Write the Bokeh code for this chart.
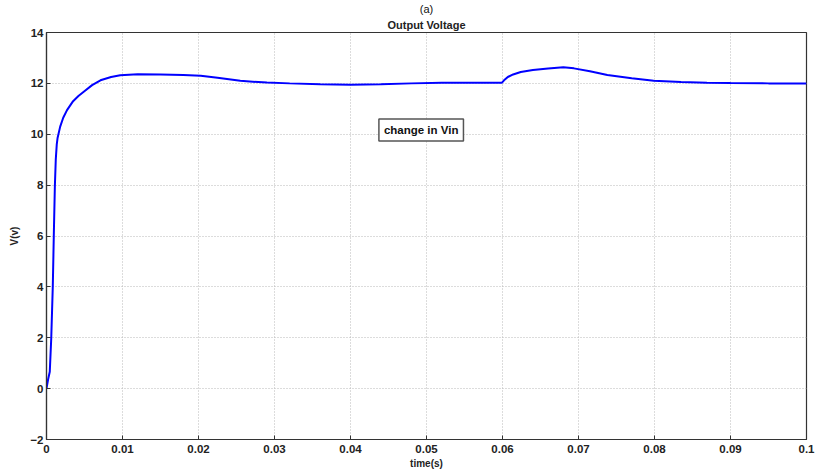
from bokeh.plotting import figure
from bokeh.models import Range1d, FixedTicker, NumeralTickFormatter, Label, Title
from bokeh.embed import file_html
from bokeh.resources import INLINE

# time (s) and output voltage (V)
t = [0, 0.0002, 0.00043, 0.00062, 0.00083, 0.00096, 0.0011, 0.00122, 0.00135, 0.00145,
     0.0018, 0.0022, 0.0027, 0.0035, 0.0042, 0.0049, 0.006, 0.0071, 0.0085, 0.0097,
     0.012, 0.015, 0.018, 0.0203, 0.0225, 0.0255, 0.029, 0.032, 0.036, 0.040,
     0.044, 0.048, 0.052, 0.056, 0.0599, 0.0602, 0.0607, 0.0614, 0.0624, 0.064,
     0.066, 0.068, 0.0694, 0.0715, 0.0738, 0.077, 0.0799, 0.0835, 0.0869, 0.09,
     0.095, 0.1]
v = [0, 0.35, 0.66, 1.95, 4.04, 6.0, 7.95, 9.0, 9.6, 9.84,
     10.3, 10.65, 10.95, 11.3, 11.5, 11.67, 11.93, 12.12, 12.25, 12.32,
     12.36, 12.35, 12.33, 12.3, 12.22, 12.1, 12.03, 12.0, 11.97, 11.95,
     11.97, 12.0, 12.02, 12.02, 12.02, 12.12, 12.25, 12.35, 12.45, 12.53,
     12.58, 12.63, 12.59, 12.48, 12.33, 12.2, 12.1, 12.05, 12.02, 12.01,
     12.0, 12.0]

x_ticks = [0, 0.01, 0.02, 0.03, 0.04, 0.05, 0.06, 0.07, 0.08, 0.09, 0.1]
y_ticks = [-2, 0, 2, 4, 6, 8, 10, 12, 14]

title_text = "Output Voltage"
x_label = "time(s)"
y_label = "V(v)"
annotation = "change in Vin"
panel_tag = "(a)"

FONT = "Liberation Sans"

p = figure(width=816, height=471, output_backend="svg", toolbar_location=None,
           x_range=Range1d(0, 0.1), y_range=Range1d(-2, 14),
           min_border_left=46, min_border_right=10, min_border_top=0, min_border_bottom=30,
           title=panel_tag)

# outermost title: the panel tag
p.title.align = "center"
p.title.text_font = FONT
p.title.text_font_size = "11px"
p.title.text_font_style = "normal"
p.title.text_color = "#111111"
p.title.standoff = 0

main_title = Title(text=title_text, align="center", text_font=FONT, text_font_size="11px",
                   text_font_style="bold", text_color="#222222", standoff=4)
p.add_layout(main_title, "above")

p.outline_line_color = "#333333"
p.outline_line_width = 1.2

for ax in (p.xaxis[0], p.yaxis[0]):
    ax.major_label_text_font = FONT
    ax.major_label_text_font_size = "11.5px"
    ax.major_label_text_font_style = "bold"
    ax.major_label_text_color = "#222222"
    ax.axis_label_text_font = FONT
    ax.axis_label_text_font_size = "10px"
    ax.axis_label_text_font_style = "bold"
    ax.axis_label_text_color = "#222222"
    ax.axis_line_color = "#333333"
    ax.axis_line_width = 1.2
    ax.major_tick_in = 4
    ax.major_tick_out = 0
    ax.major_tick_line_color = "#333333"
    ax.minor_tick_line_color = None

p.xaxis[0].ticker = FixedTicker(ticks=x_ticks)
p.xaxis[0].formatter = NumeralTickFormatter(format="0.[00]")
p.xaxis[0].axis_label = x_label
p.xaxis[0].major_label_standoff = 5
p.xaxis[0].axis_label_standoff = 2

p.yaxis[0].ticker = FixedTicker(ticks=y_ticks)
p.yaxis[0].axis_label = y_label
p.yaxis[0].major_label_standoff = 3
p.yaxis[0].axis_label_standoff = 7

for g in (p.xgrid[0], p.ygrid[0]):
    g.grid_line_color = "#b8b8b8"
    g.grid_line_dash = "1 2"
    g.grid_line_width = 1
p.xgrid[0].ticker = FixedTicker(ticks=x_ticks)
p.ygrid[0].ticker = FixedTicker(ticks=y_ticks)

p.line(t, v, line_color="#0000ff", line_width=2)

lab = Label(x=0.0493, y=10.17, text=annotation, text_align="center", text_baseline="middle",
            text_font=FONT, text_font_size="11.5px", text_font_style="bold", text_color="#111111",
            border_line_color="#555555", border_line_width=1.5, background_fill_color="white",
            padding=5)
p.add_layout(lab)

open("out.html", "w").write(file_html(p, INLINE))
